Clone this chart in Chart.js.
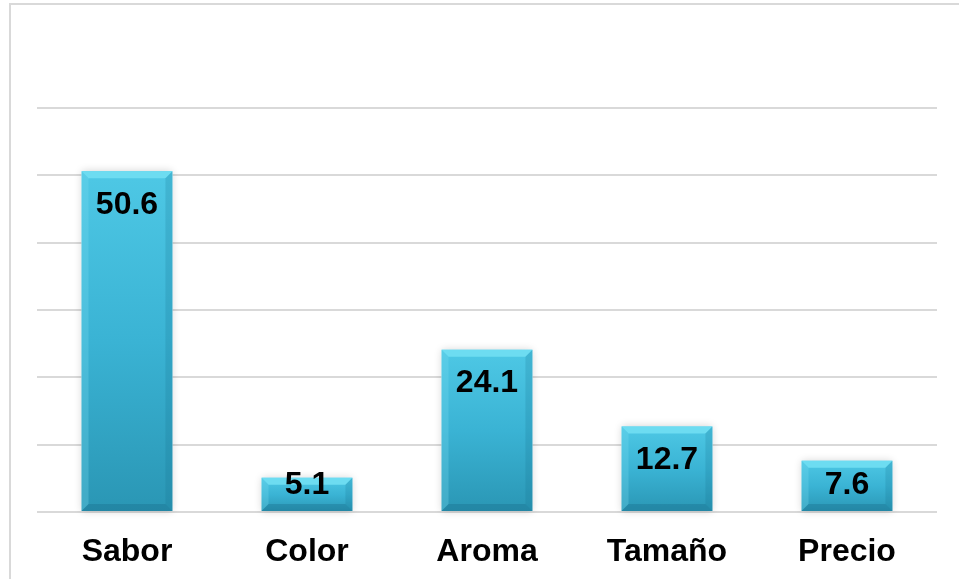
<!DOCTYPE html>
<html>
<head>
<meta charset="utf-8">
<script src="https://cdn.jsdelivr.net/npm/chart.js@4"></script>
<style>
  html, body { margin: 0; padding: 0; background: #fff; }
  #marco { position: absolute; left: 0; top: 0; width: 959px; height: 579px; overflow: hidden; }
  #borde { position: absolute; left: 9px; top: 3px; width: 1000px; height: 1000px;
           border-left: 2px solid #d9d9d9; border-top: 2px solid #d9d9d9; }
  canvas { position: absolute; left: 0; top: 0; }
</style>
</head>
<body>
<div id="marco">
  <div id="borde"></div>
  <canvas id="myChart" width="959" height="579"></canvas>
</div>
<script>
// Datos del gráfico
const categorias = ["Sabor", "Color", "Aroma", "Tamaño", "Precio"];
const valores = [50.6, 5.1, 24.1, 12.7, 7.6];
const etiquetas = ["50.6", "5.1", "24.1", "12.7", "7.6"];
const ejeY_max = 60;
const ejeY_paso = 10;

const fuente = "'Liberation Sans', Arial, sans-serif";

// degradado vertical de cada barra
function colorBarra(context) {
  const chart = context.chart;
  const escalaY = chart.scales.y;
  if (!escalaY || !chart.chartArea) return "#3bb6d6";
  const v = valores[context.dataIndex];
  const arriba = escalaY.getPixelForValue(v);
  const base = escalaY.getPixelForValue(0);
  const g = chart.ctx.createLinearGradient(0, arriba, 0, base);
  g.addColorStop(0, "#4ec8e5");
  g.addColorStop(0.5, "#3ab3d4");
  g.addColorStop(1, "#2a96b4");
  return g;
}

// bisel y sombra de las barras
const biselBarras = {
  id: "biselBarras",
  beforeDatasetsDraw(chart) {
    const ctx = chart.ctx;
    ctx.save();
    ctx.shadowColor = "rgba(0,0,0,0.18)";
    ctx.shadowBlur = 8;
    ctx.fillStyle = "#ffffff";
    chart.getDatasetMeta(0).data.forEach((bar) => {
      const izq = bar.x - bar.width / 2;
      ctx.fillRect(izq, bar.y, bar.width, bar.base - bar.y);
    });
    ctx.restore();
  },
  afterDatasetsDraw(chart) {
    const ctx = chart.ctx;
    chart.getDatasetMeta(0).data.forEach((bar) => {
      const izq = bar.x - bar.width / 2;
      const der = bar.x + bar.width / 2;
      const b = 7;
      ctx.save();
      // bisel superior
      ctx.fillStyle = "#6ddcf1";
      ctx.beginPath();
      ctx.moveTo(izq, bar.y);
      ctx.lineTo(der, bar.y);
      ctx.lineTo(der - b, bar.y + b);
      ctx.lineTo(izq + b, bar.y + b);
      ctx.closePath();
      ctx.fill();
      // bisel izquierdo
      ctx.fillStyle = "rgba(120,220,240,0.3)";
      ctx.beginPath();
      ctx.moveTo(izq, bar.y);
      ctx.lineTo(izq + b, bar.y + b);
      ctx.lineTo(izq + b, bar.base - b);
      ctx.lineTo(izq, bar.base);
      ctx.closePath();
      ctx.fill();
      // bisel derecho
      ctx.fillStyle = "rgba(20,110,140,0.2)";
      ctx.beginPath();
      ctx.moveTo(der, bar.y);
      ctx.lineTo(der - b, bar.y + b);
      ctx.lineTo(der - b, bar.base - b);
      ctx.lineTo(der, bar.base);
      ctx.closePath();
      ctx.fill();
      // bisel inferior
      ctx.fillStyle = "rgba(20,100,130,0.3)";
      ctx.beginPath();
      ctx.moveTo(izq, bar.base);
      ctx.lineTo(der, bar.base);
      ctx.lineTo(der - b, bar.base - b);
      ctx.lineTo(izq + b, bar.base - b);
      ctx.closePath();
      ctx.fill();
      ctx.restore();
    });
  },
};

// etiquetas de valor dentro de las barras
const etiquetasValor = {
  id: "etiquetasValor",
  afterDatasetsDraw(chart) {
    const ctx = chart.ctx;
    ctx.save();
    ctx.font = "bold 32px " + fuente;
    ctx.fillStyle = "#000000";
    ctx.textAlign = "center";
    ctx.textBaseline = "alphabetic";
    chart.getDatasetMeta(0).data.forEach((bar, i) => {
      const centro = Math.min(bar.y + 31, bar.base - 28.5);
      ctx.fillText(etiquetas[i], bar.x, centro + 11.5);
    });
    ctx.restore();
  },
};

const ctx = document.getElementById("myChart").getContext("2d");

new Chart(ctx, {
  type: "bar",
  data: {
    labels: categorias,
    datasets: [
      {
        data: valores,
        backgroundColor: colorBarra,
        borderWidth: 0,
        barPercentage: 1,
        categoryPercentage: 0.505,
      },
    ],
  },
  options: {
    responsive: false,
    animation: false,
    layout: { padding: { left: 37, right: 22, top: 108, bottom: 0 } },
    plugins: {
      legend: { display: false },
      tooltip: { enabled: false },
      title: { display: false },
    },
    scales: {
      x: {
        grid: { display: false, drawTicks: false },
        border: { display: false },
        ticks: {
          color: "#000000",
          padding: 21,
          font: { family: fuente, size: 32, weight: "bold" },
        },
        afterFit(scale) {
          scale.height = 67;
        },
      },
      y: {
        min: 0,
        max: ejeY_max,
        ticks: { display: false, stepSize: ejeY_paso },
        grid: { color: "#d9d9d9", lineWidth: 2, drawTicks: false },
        border: { display: false },
      },
    },
  },
  plugins: [biselBarras, etiquetasValor],
});
</script>
</body>
</html>
